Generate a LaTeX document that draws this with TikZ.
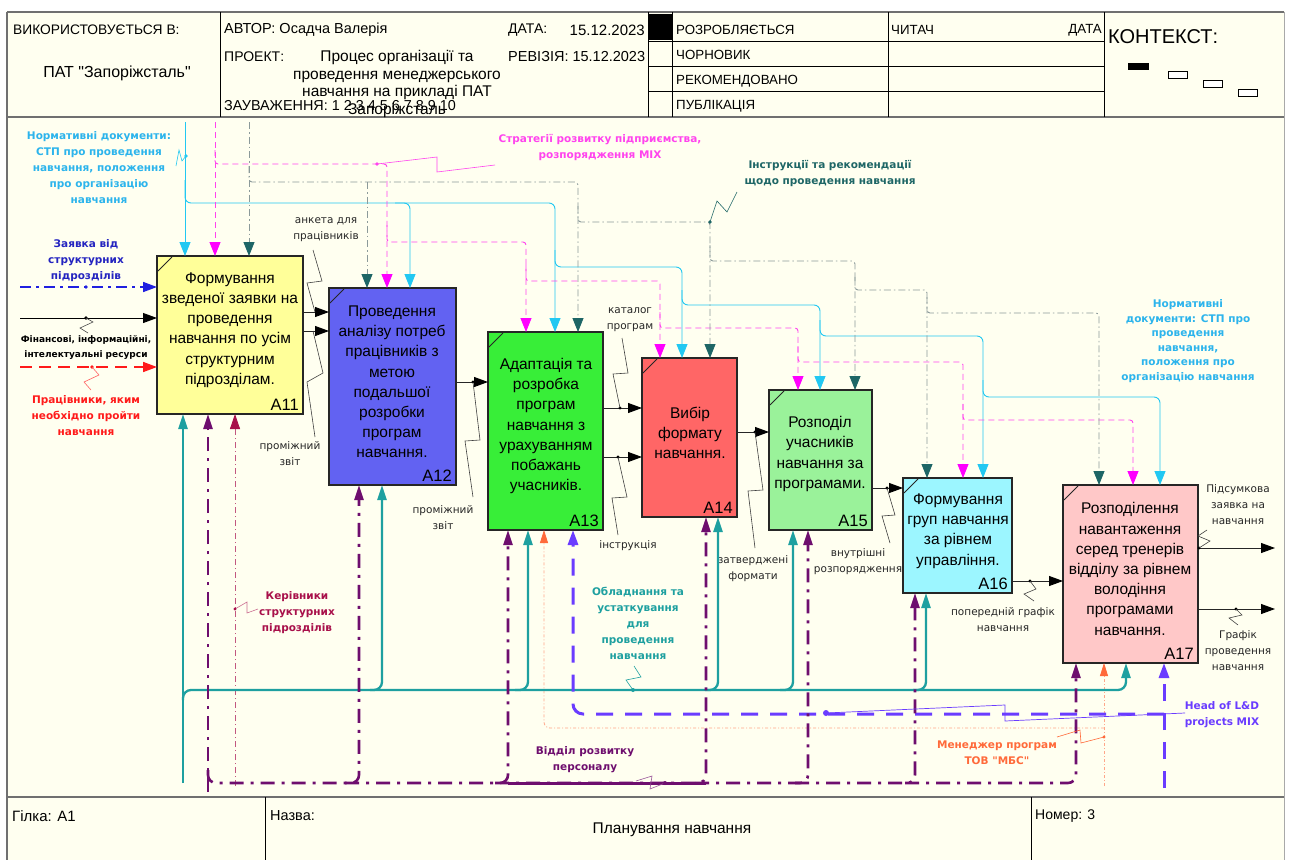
\documentclass[tikz,border=0pt]{standalone}
\usepackage{fontspec}
\setmainfont{Liberation Sans}[Ligatures=TeXOff]
\newfontfamily\dvs{DejaVu Sans}
\usetikzlibrary{arrows.meta,calc}
\definecolor{bg}{HTML}{FFFFF0}
\definecolor{frm}{HTML}{707070}
\definecolor{cA}{HTML}{FFFF99}
\definecolor{cB}{HTML}{6262F2}
\definecolor{cC}{HTML}{38EE38}
\definecolor{cD}{HTML}{FF6666}
\definecolor{cE}{HTML}{9AF29A}
\definecolor{cF}{HTML}{9CF6FF}
\definecolor{cG}{HTML}{FFC8C8}
\definecolor{cyl}{HTML}{22C8F2}
\definecolor{cyt}{HTML}{2CB4EC}
\definecolor{mag}{HTML}{FF44EE}
\definecolor{magh}{HTML}{FF00FF}
\definecolor{dtl}{HTML}{1E6666}
\definecolor{gdl}{HTML}{8C9A9A}
\definecolor{blu}{HTML}{2020E0}
\definecolor{blt}{HTML}{2424C0}
\definecolor{red1}{HTML}{FF1A1A}
\definecolor{tea}{HTML}{1EA0A0}
\definecolor{pur}{HTML}{6E0E6E}
\definecolor{crm}{HTML}{A8104A}
\definecolor{org}{HTML}{FF6A3A}
\definecolor{vio}{HTML}{6A3CFF}
\tikzset{
  proc/.style={draw=black!85, line width=1.3pt, anchor=north west, inner sep=0pt, outer sep=0pt},
  ptxt/.style={font=\fontsize{15.5}{20.2}\selectfont, align=center, inner sep=0pt},
  pnum/.style={font=\fontsize{16.5}{17}\selectfont, anchor=south east, inner sep=0pt},
  hd/.style={font=\fontsize{14}{16}\selectfont, inner sep=0pt, anchor=west},
  hs/.style={font=\fontsize{13.3}{16}\selectfont, inner sep=0pt, anchor=west},
  ft/.style={font=\fontsize{14.5}{16}\selectfont, inner sep=0pt, anchor=west},
  sl/.style={font=\dvs\fontsize{10.5}{16}\selectfont, align=center, inner sep=0pt, text=black!85},
  bl/.style={font=\dvs\bfseries\fontsize{10.5}{16}\selectfont, align=center, inner sep=0pt},
  cyanln/.style={draw=cyl, line width=0.9pt, rounded corners=6pt, -{Triangle[width=11pt,length=14pt]}},
  magln/.style={draw=mag, line width=0.9pt, dash pattern=on 6pt off 4pt, rounded corners=3pt, -{Triangle[width=11pt,length=14pt,color=magh]}},
  gln/.style={draw=gdl, line width=0.9pt, dash pattern=on 7pt off 3pt on 1.5pt off 3pt, rounded corners=3pt, -{Triangle[width=11pt,length=14pt,color=dtl]}},
  bluin/.style={draw=blu, line width=1.6pt, dash pattern=on 11pt off 5pt on 3pt off 5pt, -{Triangle[width=10pt,length=14pt]}},
  blkin/.style={draw=black, line width=0.9pt, -{Triangle[width=10pt,length=14pt]}},
  redin/.style={draw=red1, line width=1.6pt, dash pattern=on 12pt off 7pt, -{Triangle[width=10pt,length=14pt]}},
  outar/.style={draw=black!85, line width=0.9pt, -{Triangle[width=10pt,length=14pt,color=black]}},
  tealln/.style={draw=tea, line width=2.3pt, rounded corners=8pt, -{Triangle[width=9pt,length=15pt]}},
  purln/.style={draw=pur, line width=2.6pt, dash pattern=on 14pt off 7pt on 3pt off 7pt, rounded corners=8pt, -{Triangle[width=9pt,length=15pt]}},
  crmln/.style={draw=crm!70, line width=0.8pt, dash pattern=on 6pt off 3pt on 1pt off 3pt, -{Triangle[width=10pt,length=15pt,color=crm]}},
  orgln/.style={draw=org!60, line width=0.8pt, dash pattern=on 3pt off 2pt on 1pt off 2pt, rounded corners=6pt, -{Triangle[width=8pt,length=13pt,color=org]}},
  violn/.style={draw=vio, line width=3pt, dash pattern=on 17pt off 12pt, rounded corners=10pt, -{Triangle[width=10pt,length=15pt]}},
  ldr/.style={draw=black!75, line width=0.6pt},
  tick/.style={draw=black!85, line width=0.8pt},
}
\begin{document}
\begin{tikzpicture}[x=1pt,y=-1pt]
\useasboundingbox (0,0) rectangle (1291,860);
\fill[bg] (0,0) rectangle (1291,860);
\fill[white] (0,0) rectangle (1291,11);
\fill[white] (0,0) rectangle (6,860);
\fill[white] (1285,0) rectangle (1291,860);
% frame
\draw[frm, line width=2.2pt] (7,12) -- (1284,12);
\draw[frm, line width=2pt] (7,12) -- (7,860);
\draw[frm!60, line width=1pt] (1284,12) -- (1284,860);
\draw[frm, line width=1.6pt] (7,117) -- (1284,117);
\draw[frm, line width=1.6pt] (7,797) -- (1284,797);
% header grid
\foreach \xx in {220,648,672,888,1104} \draw[black, line width=0.8pt] (\xx,12) -- (\xx,117);
\foreach \yy in {41,66,91} \draw[black, line width=0.8pt] (648,\yy) -- (1104,\yy);
\fill[black] (649,14) rectangle (672,40);
% header text
\node[hd, font=\fontsize{13.8}{16}\selectfont] (h1) at (13,30) {ВИКОРИСТОВУЄТЬСЯ В:};
\node[hd, anchor=center, font=\fontsize{16}{16}\selectfont] (h2) at (117,73) {ПАТ "Запоріжсталь"};
\node[hd, font=\fontsize{14.5}{16}\selectfont] (h3) at (224,30) {АВТОР: Осадча Валерія};
\node[hd] (h4) at (508,30) {ДАТА:};
\node[hd, anchor=east, font=\fontsize{15}{16}\selectfont] (h5) at (645,30) {15.12.2023};
\node[hd] (h6) at (224,57) {ПРОЕКТ:};
\node[hd, anchor=center, align=center, font=\fontsize{15.5}{17.7}\selectfont] (h7) at (397,84) {Процес організації та\\проведення менеджерського\\навчання на прикладі ПАТ\\Запоріжсталь};
\node[hd, font=\fontsize{14.5}{16}\selectfont] (h8) at (508,57) {РЕВІЗІЯ: 15.12.2023};
\node[hd, font=\fontsize{14.4}{16}\selectfont] (h9) at (224,106) {ЗАУВАЖЕННЯ: 1 2 3 4 5 6 7 8 9 10};
\node[hs] (s1) at (676,30) {РОЗРОБЛЯЄТЬСЯ};
\node[hs] (s2) at (891,30) {ЧИТАЧ};
\node[hs, anchor=east] (s3) at (1102,30) {ДАТА};
\node[hs] (s4) at (676,55) {ЧОРНОВИК};
\node[hs] (s5) at (676,81) {РЕКОМЕНДОВАНО};
\node[hs] (s6) at (676,106) {ПУБЛІКАЦІЯ};
\node[hd, font=\fontsize{20}{20}\selectfont] (ctx) at (1108,37) {КОНТЕКСТ:};
\fill[black] (1128,63) rectangle (1149,70);
\draw[black, line width=0.7pt, fill=white] (1168,71) rectangle (1187,78);
\draw[black, line width=0.7pt, fill=white] (1203,80) rectangle (1222,87);
\draw[black, line width=0.7pt, fill=white] (1238,89) rectangle (1257,96);
% footer
\draw[black, line width=0.8pt] (265,797) -- (265,860);
\draw[black, line width=0.8pt] (1031,797) -- (1031,860);
\node[ft, font=\fontsize{15}{16}\selectfont] (f1) at (12,816) {Гілка: А1};
\node[ft] (f2) at (270,816) {Назва:};
\node[ft, font=\fontsize{14}{16}\selectfont] (f3) at (1035,816) {Номер: 3};
\node[ft, anchor=center, font=\fontsize{15.5}{16}\selectfont] (f4) at (672,830) {Планування навчання};

% process boxes
\node[proc, fill=cA, minimum width=146pt, minimum height=158pt] (a11) at (157,256) {};
\node[proc, fill=cB, minimum width=127pt, minimum height=197pt] (a12) at (329,288) {};
\node[proc, fill=cC, minimum width=115pt, minimum height=198pt] (a13) at (488,332) {};
\node[proc, fill=cD, minimum width=95pt, minimum height=159pt] (a14) at (642,358) {};
\node[proc, fill=cE, minimum width=103pt, minimum height=140pt] (a15) at (769,390) {};
\node[proc, fill=cF, minimum width=109pt, minimum height=115pt] (a16) at (903,478) {};
\node[proc, fill=cG, minimum width=135pt, minimum height=178pt] (a17) at (1063,485) {};
\foreach \b in {a11,a12,a13,a14,a15,a16,a17}
  \draw[tick] ($(\b.north west)+(1,15)$) -- ($(\b.north west)+(15,1)$);
\node[ptxt] (t11) at (230,330) {Формування\\зведеної заявки на\\проведення\\навчання по усім\\структурним\\підрозділам.};
\node[ptxt] (t12) at (392,382) {Проведення\\аналізу потреб\\працівників з\\метою\\подальшої\\розробки\\програм\\навчання.};
\node[ptxt] (t13) at (546,426) {Адаптація та\\розробка\\програм\\навчання з\\урахуванням\\побажань\\учасників.};
\node[ptxt] (t14) at (690,433) {Вибір\\формату\\навчання.};
\node[ptxt] (t15) at (820,454) {Розподіл\\учасників\\навчання за\\програмами.};
\node[ptxt] (t16) at (958,531) {Формування\\груп навчання\\за рівнем\\управління.};
\node[ptxt] (t17) at (1130,569) {Розподілення\\навантаження\\серед тренерів\\відділу за рівнем\\володіння\\програмами\\навчання.};
\node[pnum] (n11) at ($(a11.south east)+(-4,-3)$) {A11};
\node[pnum] (n12) at ($(a12.south east)+(-4,-3)$) {A12};
\node[pnum] (n13) at ($(a13.south east)+(-4,-3)$) {A13};
\node[pnum] (n14) at ($(a14.south east)+(-4,-3)$) {A14};
\node[pnum] (n15) at ($(a15.south east)+(-4,-3)$) {A15};
\node[pnum] (n16) at ($(a16.south east)+(-4,-3)$) {A16};
\node[pnum] (n17) at ($(a17.south east)+(-4,-3)$) {A17};

% ===== controls =====
% cyan
\draw[cyanln] (185,122) -- (185,0 |- a11.north);
\draw[cyanln] (185,180) |- (410,203) -- (410,0 |- a12.north);
\draw[cyanln] (395,203) -| (555,0 |- a13.north);
\draw[cyanln] (555,250) |- (682,267) -- (682,0 |- a14.north);
\draw[cyanln] (682,290) |- (820,305) -- (820,0 |- a15.north);
\draw[cyanln] (820,320) |- (983,336) -- (983,0 |- a16.north);
\draw[cyanln] (983,380) |- (1160,397) -- (1160,0 |- a17.north);
% magenta
\draw[magln] (215,122) -- (215,0 |- a11.north);
\draw[magln] (215,150) |- (387,164) -- (387,0 |- a12.north);
\draw[magln] (387,225) |- (526,242) -- (526,0 |- a13.north);
\draw[magln] (526,265) |- (660,281) -- (660,0 |- a14.north);
\draw[magln] (660,312) |- (798,328) -- (798,0 |- a15.north);
\draw[magln] (798,346) |- (963,362) -- (963,0 |- a16.north);
\draw[magln] (963,404) |- (1133,420) -- (1133,0 |- a17.north);
% grey dash-dot / dark teal
\draw[gln] (249,122) -- (249,0 |- a11.north);
\draw[gln] (249,166) |- (578,182) -- (578,0 |- a13.north);
\draw[gln] (367,182) -- (367,0 |- a12.north);
\draw[gln] (578,206) |- (710,222) -- (710,0 |- a14.north);
\draw[gln] (710,245) |- (855,261) -- (855,0 |- a15.north);
\draw[gln] (855,274) |- (927,290) -- (927,0 |- a16.north);
\draw[gln] (927,297) |- (1099,313) -- (1099,0 |- a17.north);

% control labels
\node[bl, text=cyt] (lnorm) at (99,168) {Нормативні документи:\\СТП про проведення\\навчання, положення\\про організацію\\навчання};
\draw[cyl, line width=0.6pt] (176,166) -- (179,150) -- (182,161) -- (186,156);
\fill[cyl] (186,156) circle (1.8pt);
\node[bl, text=mag] (lstrat) at (600,148) {Стратегії розвитку підприємства,\\розпорядження MIX};
\draw[mag, line width=0.6pt] (377,164) -- (437,157) -- (437,172) -- (495,165);
\fill[mag] (377,164) circle (1.8pt);
\node[bl, text=dtl] (linstr) at (830,174) {Інструкції та рекомендації\\щодо проведення навчання};
\draw[dtl, line width=0.6pt] (710,222) -- (717,201) -- (727,212) -- (737,192);
\fill[dtl] (710,222) circle (1.8pt);
\node[bl, text=cyt, font=\dvs\bfseries\fontsize{10.5}{14.5}\selectfont] (lnorm2) at (1188,341) {Нормативні\\документи: СТП про\\проведення\\навчання,\\положення про\\організацію навчання};

% ===== inputs =====
\coordinate (inB) at (20,287);
\coordinate (inK) at (20,318);
\coordinate (inR) at (20,367);
\draw[bluin] (inB) -- (a11.west |- inB);
\draw[blkin] (inK) -- (a11.west |- inK);
\draw[redin] (inR) -- (a11.west |- inR);
\fill[blu] (86,287) circle (1.8pt);
\fill[black] (86,318) circle (1.8pt);
\fill[red1] (92,367) circle (1.8pt);
\draw[black!70, line width=0.6pt] (86,318) -- (93,322) -- (80,328) -- (88,333);
\draw[red1!70, line width=0.6pt] (92,367) -- (99,375) -- (84,382) -- (91,390);
\node[bl, text=blt] (lzay) at (86,261) {Заявка від\\структурних\\підрозділів};
\node[bl, font=\dvs\bfseries\fontsize{9}{15}\selectfont] (lfin) at (86,348) {Фінансові, інформаційні,\\інтелектуальні ресурси};
\node[bl, text=red1] (lprac) at (86,416) {Працівники, яким\\необхідно пройти\\навчання};

% ===== outputs =====
\draw[outar] (a11.east |- 0,312) -- (a12.west |- 0,312);
\draw[outar] (a11.east |- 0,331) -- (a12.west |- 0,331);
\draw[outar] (a12.east |- 0,382) -- (a13.west |- 0,382);
\draw[outar] (a13.east |- 0,408) -- (a14.west |- 0,408);
\draw[outar] (a13.east |- 0,457) -- (a14.west |- 0,457);
\draw[outar] (a14.east |- 0,432) -- (a15.west |- 0,432);
\draw[outar] (a15.east |- 0,488) -- (a16.west |- 0,488);
\draw[outar] (a16.east |- 0,581) -- (a17.west |- 0,581);
\coordinate (out1) at (1275,548);
\coordinate (out2) at (1275,609);
\draw[outar] (a17.east |- out1) -- (out1);
\draw[outar] (a17.east |- out2) -- (out2);
\foreach \p in {(473,382),(620,408),(618,457),(755,432),(887,488),(1030,581),(1199,548),(1236,609)}
  \fill[black] \p circle (1.7pt);
% output labels + leaders
\node[sl] (lank) at (326,230) {анкета для\\працівників};
\draw[ldr] (313,250) -- (322,281) -- (307,283) -- (315,312);
\node[sl] (lpz1) at (290,454) {проміжний\\звіт};
\draw[ldr] (313,331) -- (323,373) -- (307,382) -- (315,437);
\node[sl] (lpz2) at (443,518) {проміжний\\звіт};
\draw[ldr] (473,382) -- (480,440) -- (465,441) -- (473,497);
\node[sl] (lkat) at (630,320) {каталог\\програм};
\draw[ldr] (622,338) -- (628,373) -- (613,374) -- (620,408);
\node[sl] (lins) at (628,546) {інструкція};
\draw[ldr] (618,457) -- (627,497) -- (612,498) -- (618,535);
\node[sl] (lzat) at (753,569) {затверджені\\формати};
\draw[ldr] (755,432) -- (763,490) -- (748,491) -- (755,548);
\node[sl] (lvnu) at (858,562) {внутрішні\\розпорядження};
\draw[ldr] (887,488) -- (895,515) -- (882,516) -- (890,543);
\node[sl] (lpop) at (1003,620) {попередній графік\\навчання};
\draw[ldr] (1030,581) -- (1036,589) -- (1024,594) -- (1034,601);
\node[sl] (lpid) at (1238,505) {Підсумкова\\заявка на\\навчання};
\draw[ldr] (1199,548) -- (1210,541) -- (1198,536) -- (1207,530);
\node[sl] (lgra) at (1238,651) {Графік\\проведення\\навчання};
\draw[ldr] (1236,609) -- (1242,615) -- (1229,618) -- (1238,625);

% ===== mechanisms =====
% orange (behind)
\draw[orgln] (1104,728) -| (544,0 |- a13.south);
\draw[orgln] (1104,786) -- (1104,0 |- a17.south);
% crimson
\draw[crmln] (235,786) -- (235,0 |- a11.south);
% teal
\draw[tealln] (183,783) -- (183,0 |- a11.south);
\draw[tealln] (183,700) |- (382,690) -- (382,0 |- a12.south);
\draw[tealln] (370,690) -| (528,0 |- a13.south);
\draw[tealln] (515,690) -| (718,0 |- a14.south);
\draw[tealln] (705,690) -| (793,0 |- a15.south);
\draw[tealln] (780,690) -| (926,0 |- a16.south);
\draw[tealln] (913,690) -| (1126,0 |- a17.south);
% violet
\draw[violn] (1164,714) -| (573,0 |- a13.south);
\draw[violn] (1164,788) -- (1164,0 |- a17.south);
% purple
\draw[purln] (208,792) -- (208,0 |- a11.south);
\draw[purln] (208,770) |- (359,783) -- (359,0 |- a12.south);
\draw[purln] (345,783) -| (508,0 |- a13.south);
\draw[purln] (495,783) -| (706,0 |- a14.south);
\draw[purln] (695,783) -| (808,0 |- a15.south);
\draw[purln] (795,783) -| (915,0 |- a16.south);
\draw[purln] (905,783) -| (1076,0 |- a17.south);
\draw[pur, line width=3pt] (508,783) -- (706,783);

% mechanism labels + leaders
\node[bl, text=crm] (lker) at (297,613) {Керівники\\структурних\\підрозділів};
\draw[crm!60, line width=0.6pt] (235,609) -- (247,602) -- (247,613) -- (258,609);
\fill[crm] (235,609) circle (1.7pt);
\node[bl, text=tea] (lobl) at (638,623) {Обладнання та\\устаткування\\для\\проведення\\навчання};
\draw[tea, line width=0.6pt] (633,690) -- (626,680) -- (641,677) -- (634,666);
\fill[tea] (633,690) circle (2pt);
\node[bl, text=pur] (lvid) at (585,760) {Відділ розвитку\\персоналу};
\draw[pur!70, line width=0.6pt] (665,783) -- (650,789) -- (652,776) -- (636,781);
\fill[pur] (665,783) circle (2pt);
\node[bl, text=org] (lmen) at (997,753) {Менеджер програм\\ТОВ "МБС"};
\draw[org, line width=0.6pt] (1104,737) -- (1081,743) -- (1080,730) -- (1057,737);
\fill[org] (1104,737) circle (1.7pt);
\node[bl, text=vio] (lhead) at (1222,715) {Head of L\&D\\projects MIX};
\draw[vio, line width=0.7pt] (826,713) -- (1005,705) -- (1005,721) -- (1185,713);
\fill[vio] (826,713) circle (3pt);
\end{tikzpicture}
\end{document}
